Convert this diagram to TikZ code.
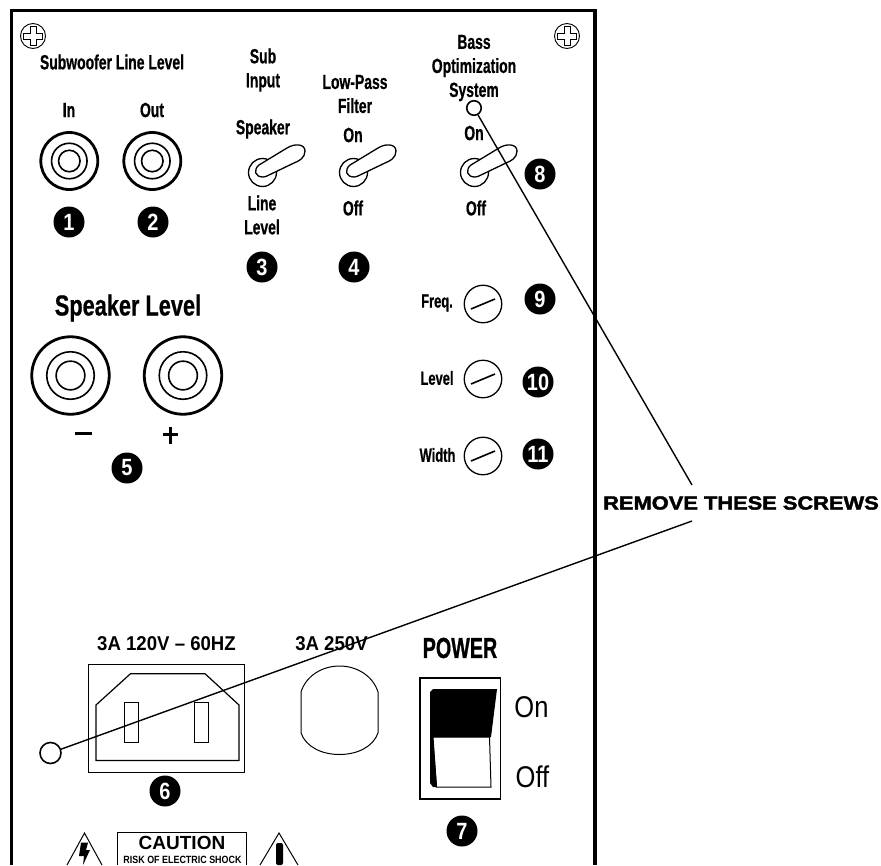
\documentclass[tikz,border=0pt]{standalone}
\usepackage{fontspec}
\setmainfont{Liberation Sans}
\newfontfamily\condf{Liberation Sans}[FakeStretch=0.68,FakeBold=0.6]
\newfontfamily\condg{Liberation Sans}[FakeStretch=0.75,FakeBold=0.6]
\newfontfamily\semif{Liberation Sans}[FakeStretch=0.85]
\newfontfamily\fullf{Liberation Sans}[FakeStretch=0.93]
\newfontfamily\widef{Liberation Sans}[FakeStretch=1.15,FakeBold=2]
\tikzset{
  x=1pt,y=-1pt,
  panel/.style={line width=3.2pt,black,line cap=butt},
  jackring/.style={circle,draw,line width=2.8pt,inner sep=0pt},
  thinring/.style={circle,draw,line width=1.6pt,inner sep=0pt},
  num/.style={circle,fill=black,text=white,inner sep=0pt,minimum size=31pt,font=\semif\bfseries\fontsize{23.5}{23.5}\selectfont},
  lab/.style={font=\condf\bfseries\fontsize{20.5}{24}\selectfont,align=center,inner sep=0pt,text=black},
  smalllab/.style={lab,font=\condf\bfseries\fontsize{19}{21}\selectfont},
  voltlab/.style={lab,font=\fullf\bfseries\fontsize{20}{22}\selectfont},
  switchlab/.style={lab,font=\semif\fontsize{30}{32}\selectfont},
  trim/.style={circle,draw,line width=1.3pt,inner sep=0pt,minimum size=37.5pt},
  screw/.style={circle,draw,line width=1.6pt,inner sep=0pt},
  leader/.style={line width=1.4pt},
  part/.style={line width=1pt},
}
\begin{document}
\begin{tikzpicture}
\useasboundingbox (0,0) rectangle (881,865);
\fill[white] (0,0) rectangle (881,865);
% panel
\coordinate (pbl) at (11.5,865);
\coordinate (ptl) at (11.5,10.5);
\coordinate (ptr) at (595,10.5);
\coordinate (pbr) at (595,865);
\draw[panel] (pbl) -- (ptl) -- (ptr) -- (pbr);
% corner screws
\foreach \n/\cx in {cl/33,cr/567}{
  \node[circle,draw,line width=.9pt,inner sep=0pt,minimum size=25pt] (\n) at (\cx,36) {};
  \draw[line width=.9pt,shift={(\cx,36)}] (-3,-9.5)--(3,-9.5)--(3,-3)--(9.5,-3)--(9.5,3)--(3,3)--(3,9.5)--(-3,9.5)--(-3,3)--(-9.5,3)--(-9.5,-3)--(-3,-3)--cycle;
}
% top labels
\node[lab] (t1) at (112,62) {Subwoofer Line Level};
\node[lab] (t2) at (263,70) {Sub\\Input};
\node[lab] (t3) at (355,94) {Low-Pass\\Filter};
\node[lab] (t4) at (474,68) {Bass\\Optimization\\System};
\node[lab] (tin) at (69,110) {In};
\node[lab] (tout) at (152,110) {Out};
\node[lab] (tsp) at (263,129) {Speaker};
\node[lab] (tlin) at (262,215) {Line\\Level};
\node[lab] (ton4) at (353,135) {On};
\node[lab] (ton8) at (474,133) {On};
\node[lab] (toff4) at (353,208) {Off};
\node[lab] (toff8) at (476,208) {Off};
% line-level jacks
\foreach \n/\cx in {a/69.3,b/152.3}{
  \node[jackring,minimum size=57pt] (\n1) at (\cx,161) {};
  \node[thinring,minimum size=35.5pt] (\n2) at (\cx,161) {};
  \node[thinring,minimum size=21.5pt] (\n3) at (\cx,161) {};
}
% toggles
\foreach \n/\dx in {s/-91,l/0,o/121}{
  \begin{scope}[shift={(\dx,0)}]
    \draw[line width=1.3pt] (353.5,172.5) circle[radius=14];
    \draw[line width=1.3pt,fill=white] (354,177) .. controls (346,177) and (344,170) .. (350,165) -- (378,148) .. controls (386,143) and (396,144) .. (396,151) .. controls (396,158) and (390,161) .. (385,163) -- (360,175) .. controls (357,176.5) and (356,177) .. (354,177) -- cycle;
  \end{scope}
}
% numbers
\node[num] (n1) at (69,222) {1};
\node[num] (n2) at (153,222) {2};
\node[num] (n3) at (262,267) {3};
\node[num] (n4) at (354,267) {4};
\node[num] (n8) at (540,174) {8};
\node[num] (n9) at (540,299) {9};
\node[num] (n10) at (538,382) {10};
\node[num] (n11) at (538,454) {11};
\node[num] (n5) at (127,468) {5};
\node[num] (n6) at (165,791) {6};
\node[num] (n7) at (462,831) {7};
% speaker level
\node[lab,font=\condg\bfseries\fontsize{29}{31}\selectfont] (tspk) at (128,308) {Speaker Level};
\foreach \n/\cx in {c/70.5,d/183}{
  \node[jackring,minimum size=77.5pt] (\n1) at (\cx,375.5) {};
  \node[thinring,minimum size=47.5pt] (\n2) at (\cx,375.5) {};
  \node[thinring,minimum size=28.7pt] (\n3) at (\cx,375.5) {};
}
\draw[line width=3pt] (75,433.5) -- (92,433.5);
\draw[line width=3pt] (163,434.5) -- (178,434.5) (170.5,427) -- (170.5,444);
% trims
\foreach \n/\cy/\t/\lx in {f/304/Freq./437,g/379/Level/437,w/456/Width/437.5}{
  \node[trim] (\n) at (483,\cy) {};
  \draw[line width=1.6pt] ([shift={(-12,5)}]\n.center) -- ([shift={(12,-5)}]\n.center);
  \node[smalllab] (\n t) at (\lx,\cy-1) {\t};
}
% mains section
\node[voltlab] (v1) at (166.5,644) {3A 120V – 60HZ};
\node[voltlab] (v2) at (331.5,644) {3A 250V};
\node[lab,font=\condf\bfseries\fontsize{29}{31}\selectfont] (pw) at (460,648) {POWER};
\draw[part] (88,664) rectangle (244.5,772);
\draw[part,line width=1.2pt] (96,760.5) -- (96,705) -- (130.5,673.7) -- (205,673.7) -- (239,705) -- (239,760.5) -- cycle;
\draw[part] (124.7,702.7) rectangle (138.3,742.7);
\draw[part] (194.5,702.7) rectangle (208.5,742.7);
% fuse
\draw[part] (301,692) .. controls (306,676) and (322,666) .. (339.5,666) .. controls (357,666) and (373,676) .. (378,692) -- (378,733) .. controls (373,747) and (357,754.5) .. (339.5,754.5) .. controls (322,754.5) and (306,747) .. (301,733) -- cycle;
% power switch
\draw[part,line width=1.2pt] (420,678) rectangle (500.5,799);
\fill (433,689) -- (497,689) -- (491,737) -- (430,737) -- (430,692) -- cycle;
\fill (430,737) -- (433,737) -- (437,787) -- (433,787) -- (430,783) -- cycle;
\draw[part] (433,737) -- (489.5,737) -- (491,787) -- (436.5,787) -- cycle;
\node[switchlab] (on) at (531.5,707) {On};
\node[switchlab] (off) at (532.5,777) {Off};
% caution
\draw[part] (117,832) -- (246,832) (117,832) -- (117,865) (246,832) -- (246,865);
\node[lab,font=\fontsize{19}{21}\selectfont\bfseries] (ca) at (182,842.5) {CAUTION};
\node[lab,font=\semif\bfseries\fontsize{10.5}{12}\selectfont] (ri) at (182.5,859.5) {RISK OF ELECTRIC SHOCK};
\draw[part] (67,865) -- (84.5,833) -- (102,865);
\draw[part] (260,865) -- (279,833) -- (298,865);
\fill (81,842.7) -- (88,842.7) -- (86,850) -- (90,850) -- (83,865) -- (84,856) -- (79,856) -- cycle;
\fill[rounded corners=2pt] (276,865) -- (276,843) -- (283,843) -- (283,865) -- cycle;
% screws and leaders
\node[screw,minimum size=14.5pt] (s1) at (474,108) {};
\node[screw,minimum size=21pt] (s2) at (50.5,753) {};
\coordinate (e1) at (692,485);
\coordinate (e2) at (692,521);
\draw[leader] (s1) -- (e1);
\draw[leader] (s2) -- (e2);
\node[lab,font=\widef\bfseries\fontsize{19}{21}\selectfont] (rm) at (741,503) {REMOVE THESE SCREWS};
\end{tikzpicture}
\end{document}
